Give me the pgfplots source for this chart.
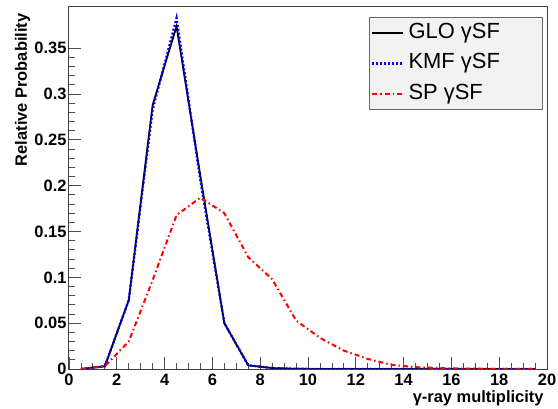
\documentclass[border=0pt]{standalone}
\usepackage{fontspec}
\setmainfont{Liberation Sans}
\usepackage{pgfplots}
\pgfplotsset{compat=1.18}

\pgfplotstableread{
x     glo     kmf     sp
0.5   0       0       0
1.5   0.003   0.003   0.003
2.5   0.075   0.075   0.030
3.5   0.288   0.283   0.097
4.5   0.374   0.383   0.168
5.5   0.210   0.205   0.187
6.5   0.050   0.050   0.170
7.5   0.004   0.004   0.122
8.5   0.001   0.001   0.098
9.5   0.0002  0.0002  0.053
10.5  0       0       0.034
11.5  0       0       0.020
12.5  0       0       0.011
13.5  0       0       0.0045
14.5  0       0       0.002
15.5  0       0       0.001
16.5  0       0       0.0005
17.5  0       0       0.0002
18.5  0       0       0.0001
19.5  0       0       0
}\mult

\newcommand{\lentry}[1]{\makebox[128bp][l]{#1}}

\begin{document}
\begin{tikzpicture}
\begin{axis}[
  scale only axis,
  width=478bp, height=362bp,
  xmin=0, xmax=20, ymin=0, ymax=0.395,
  xtick={0,2,...,20},
  ytick={0,0.05,0.1,0.15,0.2,0.25,0.3,0.35},
  minor x tick num=3,
  minor y tick num=4,
  tick pos=left,
  tick align=inside,
  major tick length=12bp,
  minor tick length=6bp,
  tick style={black!70, line width=0.8bp},
  axis line style={black!75, line width=1bp},
  /pgf/number format/assume math mode=true,
  /pgf/number format/fixed,
  /pgf/number format/precision=2,
  ticklabel style={font=\fontsize{16.5}{19}\selectfont\bfseries},
  xticklabel style={yshift=-1.5bp},
  yticklabel style={xshift=1bp},
  xlabel={γ-ray multiplicity},
  ylabel={Relative Probability},
  label style={font=\fontsize{16.5}{19}\selectfont\bfseries},
  xlabel style={at={(rel axis cs:1,0)}, anchor=base east, yshift=-33bp},
  ylabel style={at={([xshift=-42bp, yshift=-3bp]rel axis cs:0,1)}, anchor=base east},
  legend style={
    at={(rel axis cs:1,1)}, anchor=north east, xshift=-4bp, yshift=-10bp,
    fill=black!5, draw=black!60, line width=0.8bp,
    font=\fontsize{22}{26}\selectfont,
    cells={anchor=west}, row sep=0bp,
    inner xsep=2bp, inner ysep=0.5bp,
    nodes={inner sep=4bp, text height=16.5bp, text depth=6bp}},
  legend image code/.code={\draw[#1] (0bp,0bp) -- (31bp,0bp);},
]
\addplot[black, line width=1.8bp] table[x=x, y=glo] {\mult};
\addplot[blue, line width=2.3bp, dash pattern=on 2bp off 2bp] table[x=x, y=kmf] {\mult};
\addplot[red, line width=2bp, dash pattern=on 5bp off 3bp on 1.5bp off 3bp] table[x=x, y=sp] {\mult};
\legend{\lentry{GLO γSF}, \lentry{KMF γSF}, \lentry{SP γSF}}
\end{axis}
\pgfresetboundingbox
\path[use as bounding box] (-69bp,-40bp) rectangle (489bp,369bp);
\end{tikzpicture}
\end{document}
